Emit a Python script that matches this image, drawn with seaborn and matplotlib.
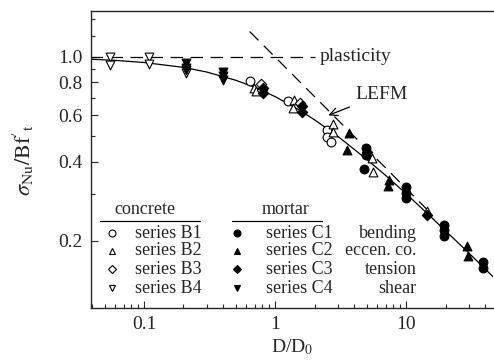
import numpy as np
import pandas as pd
import matplotlib
matplotlib.use("Agg")
import matplotlib.pyplot as plt
import seaborn as sns

# ---- data ----
B1_x = [0.64, 1.26, 2.5, 2.5, 2.67]
B1_y = [0.81, 0.68, 0.527, 0.496, 0.475]
B2_x = [0.69, 0.72, 1.4, 1.38, 2.77, 2.75, 5.5, 5.6, 14.4]
B2_y = [0.762, 0.74, 0.686, 0.64, 0.556, 0.519, 0.413, 0.365, 0.26]
B3_x = [0.78, 0.80, 1.55]
B3_y = [0.79, 0.75, 0.67]
B4_x = [0.055, 0.055, 0.109, 0.109, 0.21]
B4_y = [1.0, 0.93, 1.0, 0.94, 0.87]
C1_x = [4.95, 4.95, 4.78, 10, 10, 10, 19.5, 19.5, 19.5, 38.7, 38.7]
C1_y = [0.45, 0.424, 0.375, 0.32, 0.304, 0.29, 0.229, 0.22, 0.208, 0.166, 0.158]
C2_x = [3.67, 3.55, 7.4, 7.3, 29, 29.5]
C2_y = [0.514, 0.443, 0.34, 0.323, 0.191, 0.175]
C3_x = [0.81, 0.81, 1.6, 1.6, 5.0, 14.4]
C3_y = [0.762, 0.73, 0.65, 0.617, 0.435, 0.25]
C4_x = [0.21, 0.21, 0.21, 0.40, 0.40, 0.40]
C4_y = [0.949, 0.908, 0.89, 0.877, 0.847, 0.818]

# size effect curve
curve_x = [0.039, 0.06, 0.1, 0.2, 0.3, 0.5, 0.7, 1.0, 1.5, 2.0, 3.0, 5.0, 7.0, 10, 15, 20, 30, 46]
curve_y = [0.981, 0.971, 0.953, 0.913, 0.877, 0.816, 0.767, 0.707, 0.632, 0.577, 0.500, 0.408, 0.354, 0.302, 0.250, 0.218, 0.180, 0.146]
# plasticity and LEFM asymptotes
plast_x = [0.039, 2.0]
plast_y = [1.0, 1.0]
lefm_x = [0.64, 15.0]
lefm_y = [1.25, 0.258]

concrete_labels = ["series B1", "series B2", "series B3", "series B4"]
mortar_labels = ["series C1", "series C2", "series C3", "series C4"]
test_labels = ["bending", "eccen. co.", "tension", "shear"]

sns.set_style("ticks")
plt.rcParams['font.family'] = ['Liberation Serif', 'DejaVu Serif']
plt.rcParams['mathtext.fontset'] = 'stix'

fig = plt.figure(figsize=(4.94, 3.62), dpi=100)
ax = fig.add_axes([91/494, 1-308/362, 402/494, 297/362])

sns.lineplot(x=curve_x, y=curve_y, ax=ax, color='black', lw=0.9, sort=False)
sns.lineplot(x=plast_x, y=plast_y, ax=ax, color='black', lw=0.9, linestyle=(0, (10, 6)))
sns.lineplot(x=lefm_x, y=lefm_y, ax=ax, color='black', lw=0.9, linestyle=(0, (10, 6)))

series = [
    (B1_x, B1_y, 'o', 'white'), (B2_x, B2_y, '^', 'white'),
    (B3_x, B3_y, 'D', 'white'), (B4_x, B4_y, 'v', 'white'),
    (C1_x, C1_y, 'o', 'black'), (C2_x, C2_y, '^', 'black'),
    (C3_x, C3_y, 'D', 'black'), (C4_x, C4_y, 'v', 'black'),
]
for xs, ys, m, fc in series:
    s = 40 if m != 'D' else 28
    sns.scatterplot(x=xs, y=ys, ax=ax, marker=m, s=s, facecolor=fc,
                    edgecolor='black', linewidth=0.8, zorder=3)

ax.set_xscale('log')
ax.set_yscale('log')
ax.set_xlim(0.0394, 46)
ax.set_ylim(0.111, 1.496)

ax.set_xticks([0.1, 1, 10])
ax.set_xticklabels(['0.1', '1', '10'])
ax.xaxis.set_minor_locator(matplotlib.ticker.LogLocator(base=10, subs=np.arange(2, 10)))
ax.xaxis.set_minor_formatter(matplotlib.ticker.NullFormatter())
ax.set_yticks([0.2, 0.4, 0.6, 0.8, 1.0])
ax.set_yticklabels(['0.2', '0.4', '0.6', '0.8', '1.0'])
ax.yaxis.set_minor_locator(matplotlib.ticker.FixedLocator([0.3, 0.5, 0.7, 0.9, 1.2, 1.4]))
ax.yaxis.set_minor_formatter(matplotlib.ticker.NullFormatter())
ax.tick_params(which='both', direction='in', labelsize=14, width=0.8)
ax.tick_params(which='major', length=5, pad=6)
ax.tick_params(which='minor', length=3)
ax.tick_params(axis='y', which='both', right=False)
ax.spines['right'].set_visible(False)
for sp in ['left', 'bottom', 'top']:
    ax.spines[sp].set_linewidth(1.0)

ax.set_xlabel(r"D/D$_0$", fontsize=14, labelpad=3)
ax.set_ylabel(r"$\sigma_{\mathrm{Nu}}/\mathrm{Bf}'_{\mathrm{t}}$", fontsize=16, labelpad=16)

# annotations
ax.text(2.2, 1.0, "plasticity", fontsize=14, va='center', ha='left')
ax.annotate("LEFM", xy=(2.55, 0.60), xytext=(4.1, 0.72), fontsize=14,
            va='center', ha='left',
            arrowprops=dict(arrowstyle='->', color='black', lw=0.9, shrinkA=2, shrinkB=0))

# custom legend
T = ax.transAxes
rows = [0.2525, 0.192, 0.131, 0.067]
ax.text(0.134, 0.333, "concrete", transform=T, fontsize=13, ha='center', va='center')
ax.plot([0.022, 0.271], [0.293, 0.293], transform=T, color='black', lw=0.9)
ax.text(0.483, 0.333, "mortar", transform=T, fontsize=13, ha='center', va='center')
ax.plot([0.351, 0.575], [0.293, 0.293], transform=T, color='black', lw=0.9)
cm = ['o', '^', 'D', 'v']
for i, r in enumerate(rows):
    ms = 5 if cm[i] != 'D' else 4
    ax.plot([0.052], [r], transform=T, marker=cm[i], ms=ms, mfc='white', mec='black', mew=0.8, ls='none')
    ax.text(0.109, r, concrete_labels[i], transform=T, fontsize=13, ha='left', va='center')
    ax.plot([0.363], [r], transform=T, marker=cm[i], ms=ms, mfc='black', mec='black', mew=0.8, ls='none')
    ax.text(0.435, r, mortar_labels[i], transform=T, fontsize=13, ha='left', va='center')
    ax.text(0.81, r, test_labels[i], transform=T, fontsize=13, ha='right', va='center')

fig.savefig("out.png", dpi=100)
